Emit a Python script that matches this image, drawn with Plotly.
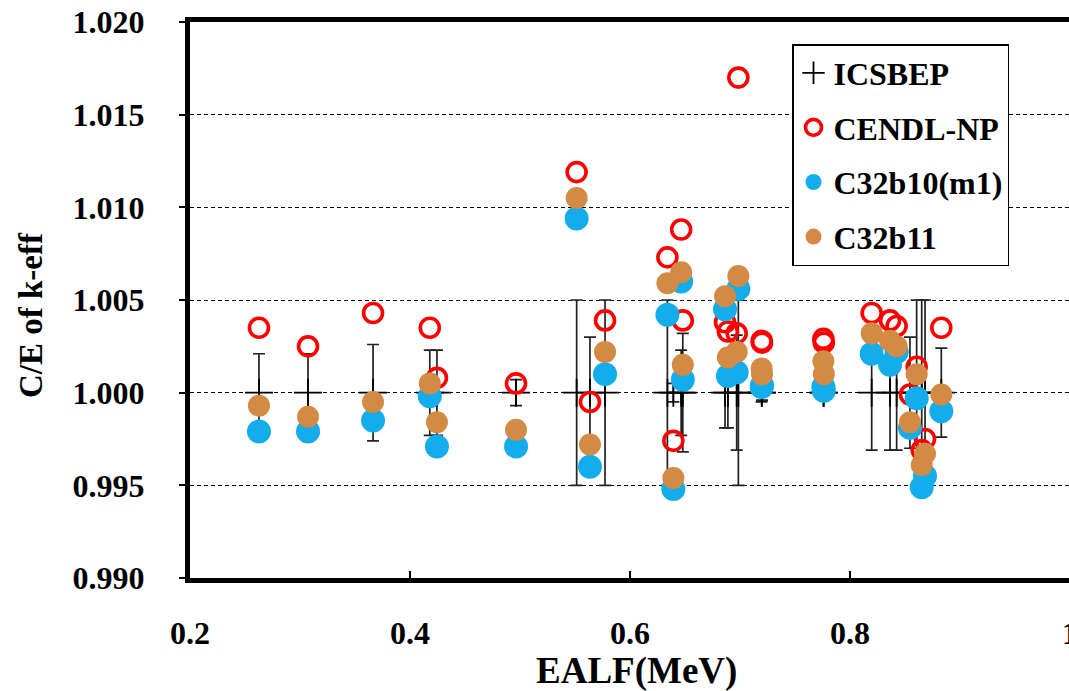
import plotly.graph_objects as go

# Benchmark cases: EALF (MeV), ICSBEP experimental uncertainty, and C/E for three libraries
ealf = [0.2627, 0.3073, 0.3664, 0.4180, 0.4245, 0.4964, 0.5515, 0.5636, 0.5773,
        0.6340, 0.6394, 0.6465, 0.6480, 0.6864, 0.6890, 0.6970, 0.6985, 0.7197,
        0.7200, 0.7758, 0.7762, 0.8197, 0.8364, 0.8424, 0.8545, 0.8606, 0.8652,
        0.8682, 0.8830]
icsbep = [1.000, 1.000, 1.000, 1.000, 1.000, 1.000, 1.000, 1.000, 1.000,
          1.000, 1.000, 1.000, 1.000, 1.000, 1.000, 1.000, 1.000, 1.000,
          1.000, 1.000, 1.000, 1.000, 1.000, 1.000, 1.000, 1.000, 1.000,
          1.000, 1.000]
unc = [0.0021, 0.0021, 0.0026, 0.0023, 0.0023, 0.0007, 0.0050, 0.0030, 0.0050,
       0.0050, 0.0005, 0.0023, 0.0032, 0.0019, 0.0019, 0.0031, 0.0050, 0.0005,
       0.0004, 0.0003, 0.0003, 0.0031, 0.0031, 0.0031, 0.0030, 0.0050, 0.0050,
       0.0050, 0.0024]
cendl_np = [1.0035, 1.0025, 1.0043, 1.0035, 1.0008, 1.0005, 1.0119, 0.9995, 1.0039,
            1.0073, 0.9974, 1.0088, 1.0039, 1.0038, 1.0033, 1.0032, 1.0170, 1.0028,
            1.0027, 1.0029, 1.0027, 1.0043, 1.0039, 1.0036, 0.9999, 1.0014, 0.9969,
            0.9975, 1.0035]
c32b10_m1 = [0.9979, 0.9979, 0.9985, 0.9998, 0.9971, 0.9971, 1.0094, 0.9960, 1.0010,
             1.0042, 0.9948, 1.0060, 1.0007, 1.0045, 1.0009, 1.0011, 1.0056, 1.0003,
             1.0004, 1.0003, 1.0001, 1.0021, 1.0015, 1.0022, 0.9981, 0.9997, 0.9949,
             0.9955, 0.9990]
c32b11 = [0.9993, 0.9987, 0.9995, 1.0005, 0.9984, 0.9980, 1.0105, 0.9972, 1.0022,
          1.0059, 0.9954, 1.0065, 1.0015, 1.0052, 1.0019, 1.0022, 1.0063, 1.0013,
          1.0010, 1.0017, 1.0010, 1.0032, 1.0028, 1.0025, 0.9984, 1.0010, 0.9961,
          0.9967, 0.9999]

y_ticks = [0.990, 0.995, 1.000, 1.005, 1.010, 1.015, 1.020]
x_ticks = [0.2, 0.4, 0.6, 0.8]

FONT = "'Liberation Serif', Tinos, 'Times New Roman', 'Nimbus Roman', 'DejaVu Serif', serif"
BLUE = "#14ADEB"
ORANGE = "#D38A44"
RED = "#FF0000"

fig = go.Figure()

fig.add_trace(go.Scatter(
    x=ealf, y=icsbep, mode="markers", name="ICSBEP", legendgroup="a",
    marker=dict(symbol="cross-thin", size=20, line=dict(width=1.8, color="black"), color="black"),
    error_y=dict(type="data", array=unc, visible=True, color="#222222", thickness=1.7, width=6),
))
fig.add_trace(go.Scatter(
    x=ealf, y=cendl_np, mode="markers", name="CENDL-NP", legendgroup="b",
    marker=dict(symbol="circle-open", size=19, line=dict(width=3.6, color=RED), color=RED),
))
fig.add_trace(go.Scatter(
    x=ealf, y=c32b10_m1, mode="markers", name="C32b10(m1)", legendgroup="c",
    marker=dict(symbol="circle", size=24, color=BLUE, line=dict(width=0)),
))
fig.add_trace(go.Scatter(
    x=ealf, y=c32b11, mode="markers", name="C32b11", legendgroup="d",
    marker=dict(symbol="circle", size=22, color=ORANGE, line=dict(width=0)),
))

L, R, T, B = 190, 0, 22, 113
W, H = 1069, 691
plot_w = W - L - R
plot_h = H - T - B
x_max = 0.2 + plot_w / 1100.0


def bold(size):
    return dict(family=FONT, size=size, color="black", weight="bold")


fig.update_layout(
    width=W, height=H,
    margin=dict(l=L, r=R, t=T, b=B, pad=0, autoexpand=False),
    paper_bgcolor="white", plot_bgcolor="white",
    font=bold(32),
    showlegend=True,
    legend=dict(
        x=(792 - L) / plot_w, y=(H - B - 44) / plot_h,
        xanchor="left", yanchor="top",
        bgcolor="white", bordercolor="black", borderwidth=1.5,
        font=bold(32),
        tracegroupgap=10, itemsizing="trace",
        entrywidth=185, entrywidthmode="pixels",
    ),
    xaxis=dict(
        range=[0.2, x_max], tickvals=x_ticks, ticktext=[f"{v:.1f}" for v in x_ticks],
        ticks="inside", ticklen=7, tickwidth=1.5, tickcolor="black",
        showline=True, linewidth=5, linecolor="black", mirror=True,
        showgrid=False, zeroline=False, automargin=False,
        ticklabelstandoff=23,
        tickfont=bold(32),
    ),
    yaxis=dict(
        range=[0.990, 1.020], tickvals=y_ticks, ticktext=[f"{v:.3f}" for v in y_ticks],
        ticks="outside", ticklen=6, tickwidth=1.5, tickcolor="black",
        showline=True, linewidth=5, linecolor="black",
        showgrid=True, gridcolor="black", gridwidth=1, griddash="4px,3px",
        zeroline=False, automargin=False,
        ticklabelstandoff=28,
        tickfont=bold(32),
    ),
)

# axis titles
fig.add_annotation(
    x=(636 - L) / plot_w, xref="paper", y=-(671 - (H - B)) / plot_h, yref="paper",
    text="EALF(MeV)", showarrow=False, xanchor="center", yanchor="middle", font=bold(37),
)
fig.add_annotation(
    x=-(L - 31) / plot_w, xref="paper", y=(H - B - 315) / plot_h, yref="paper",
    text="C/E of k-eff", showarrow=False, xanchor="center", yanchor="middle",
    textangle=-90, font=bold(33),
)
# the "1" tick label sits on the right edge of the figure
fig.add_annotation(
    x=(1.0 - 0.2) * 1100 / plot_w, xref="paper", y=-(633 - (H - B)) / plot_h, yref="paper",
    text="1", showarrow=False, xanchor="center", yanchor="middle", font=bold(32),
)

fig.write_html("out.html")
